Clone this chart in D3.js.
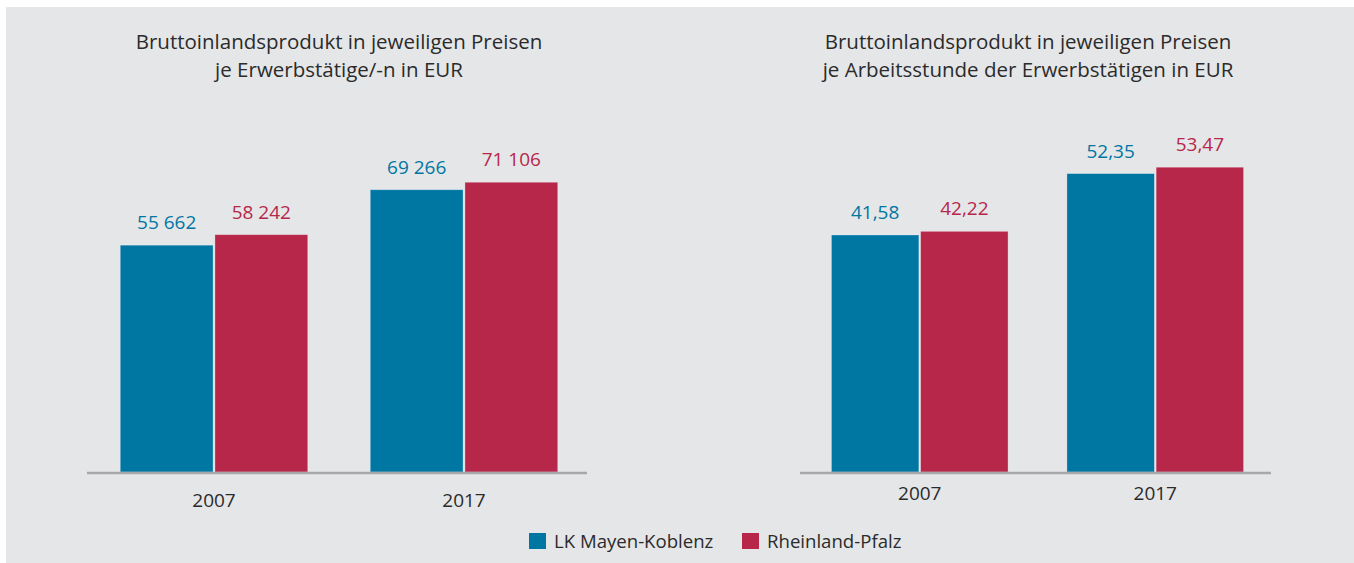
<!DOCTYPE html>
<html>
<head>
<meta charset="utf-8">
<script src="https://cdn.jsdelivr.net/npm/d3@7"></script>
<style>
  body { margin: 0; background: #fff; }
  svg text { font-family: "Open Sans", "Noto Sans", sans-serif; }
</style>
</head>
<body>
<svg id="chart" width="1354" height="563"></svg>
<script>
// data
const years = ["2007", "2017"];
const seriesNames = ["LK Mayen-Koblenz", "Rheinland-Pfalz"];
const perWorker = [[55662, 58242], [69266, 71106]];        // per year: [LK, RLP]
const perHour = [[41.58, 42.22], [52.35, 53.47]];
const titleLeft = ["Bruttoinlandsprodukt in jeweiligen Preisen", "je Erwerbstätige/-n in EUR"];
const titleRight = ["Bruttoinlandsprodukt in jeweiligen Preisen", "je Arbeitsstunde der Erwerbstätigen in EUR"];

const colours = ["#0076a3", "#b7274a"];
const textCol = "#2b2b2b";

const svg = d3.select("#chart");

svg.append("rect")
    .attr("x", 6).attr("y", 7)
    .attr("width", 1348).attr("height", 556)
    .attr("fill", "#e5e6e8");

const fmtThousand = d3.formatLocale({decimal: ",", thousands: " ", grouping: [3], currency: ["", " €"]}).format(",d");
const fmtDec = d3.formatLocale({decimal: ",", thousands: ".", grouping: [3], currency: ["", " €"]}).format(".2f");

function draw_panel(opts)
{
    const x0 = d3.scaleBand()
        .domain(years)
        .range(opts.xRange)
        .paddingInner(0.25)
        .paddingOuter(0.125);

    const x1 = d3.scaleBand()
        .domain([0, 1])
        .range([0, x0.bandwidth()])
        .paddingInner(0.02);

    const y = d3.scaleLinear()
        .domain(opts.yDomain)
        .range([472, opts.yTop]);

    const g = svg.append("g");

    // title
    const t = g.append("text")
        .attr("x", opts.titleX)
        .attr("y", 49)
        .attr("text-anchor", "middle")
        .attr("fill", textCol)
        .style("font-size", "20.5px");
    opts.title.forEach((line, i) => {
        t.append("tspan")
            .attr("x", opts.titleX)
            .attr("dy", i === 0 ? 0 : 28)
            .text(line);
    });

    // bars
    years.forEach((yr, i) => {
        const grp = g.append("g")
            .attr("transform", "translate(" + x0(yr) + ",0)");
        opts.values[i].forEach((v, s) => {
            grp.append("rect")
                .attr("x", x1(s))
                .attr("y", y(v))
                .attr("width", x1.bandwidth())
                .attr("height", y(0) - y(v))
                .attr("fill", colours[s])
                .attr("stroke", "#ffffff")
                .attr("stroke-opacity", 0.35)
                .attr("stroke-width", 0.8);
            grp.append("text")
                .attr("x", x1(s) + x1.bandwidth() / 2)
                .attr("y", y(v) - 16)
                .attr("text-anchor", "middle")
                .attr("fill", colours[s])
                .style("font-size", "19px")
                .text(opts.fmt(v));
        });
    });

    // baseline
    const [r0, r1] = x0.range();
    g.append("line")
        .attr("x1", r0 - 2).attr("x2", r1 - 2)
        .attr("y1", y(0) + 1).attr("y2", y(0) + 1)
        .attr("stroke", "#a7a8aa")
        .attr("stroke-width", 2.5);

    // year labels
    const axis = g.append("g")
        .attr("transform", "translate(0," + opts.labelY + ")")
        .call(d3.axisBottom(x0).tickSize(0).tickPadding(0));
    axis.select(".domain").remove();
    axis.selectAll("text")
        .attr("dy", 0)
        .attr("fill", textCol)
        .style("font-size", "19px")
        .style("font-family", "\"Open Sans\", \"Noto Sans\", sans-serif");
}

draw_panel({
    xRange: [89, 589],
    yDomain: [0, 80000],
    yTop: 146,
    values: perWorker,
    fmt: fmtThousand,
    title: titleLeft,
    titleX: 339,
    labelY: 507
});

draw_panel({
    xRange: [802, 1273],
    yDomain: [0, 60],
    yTop: 130,
    values: perHour,
    fmt: fmtDec,
    title: titleRight,
    titleX: 1028,
    labelY: 500
});

// legend
const legendX = [529, 742];
const legend = svg.append("g");
seriesNames.forEach((name, i) => {
    legend.append("rect")
        .attr("x", legendX[i]).attr("y", 533)
        .attr("width", 17).attr("height", 16)
        .attr("fill", colours[i]);
    legend.append("text")
        .attr("x", legendX[i] + 25).attr("y", 548)
        .attr("fill", textCol)
        .style("font-size", "18.6px")
        .text(name);
});
</script>
</body>
</html>
